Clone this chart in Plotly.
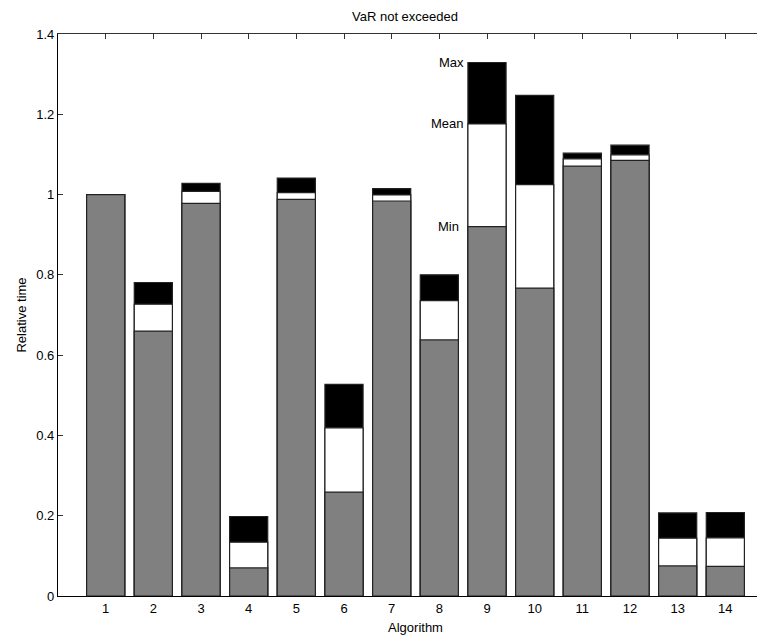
import plotly.graph_objects as go

algorithms = list(range(1, 15))
min_vals  = [1.000, 0.660, 0.978, 0.070, 0.988, 0.259, 0.984, 0.638, 0.920, 0.767, 1.071, 1.085, 0.075, 0.074]
mean_vals = [1.000, 0.727, 1.008, 0.134, 1.005, 0.419, 0.999, 0.736, 1.176, 1.025, 1.089, 1.099, 0.144, 0.145]
max_vals  = [1.000, 0.781, 1.028, 0.198, 1.041, 0.527, 1.015, 0.800, 1.329, 1.247, 1.103, 1.123, 0.207, 0.208]
y_ticks = [0, 0.2, 0.4, 0.6, 0.8, 1, 1.2, 1.4]
y_tick_labels = ["0", "0.2", "0.4", "0.6", "0.8", "1", "1.2", "1.4"]

font_family = "Liberation Sans, Arial, sans-serif"
line = dict(color="#222222", width=1.2)

fig = go.Figure()
fig.add_trace(go.Bar(x=algorithms, y=max_vals, marker=dict(color="black", line=line), width=0.8, name="Max"))
fig.add_trace(go.Bar(x=algorithms, y=mean_vals, marker=dict(color="white", line=line), width=0.8, name="Mean"))
fig.add_trace(go.Bar(x=algorithms, y=min_vals, marker=dict(color="#808080", line=line), width=0.8, name="Min"))

# dummy trace for top axis ticks
fig.add_trace(go.Scatter(x=algorithms, y=[None] * len(algorithms), xaxis="x2", showlegend=False, hoverinfo="skip"))

for label, val in [("Max", max_vals[8]), ("Mean", mean_vals[8]), ("Min", min_vals[8])]:
    fig.add_annotation(x=9 - 0.4, y=val, xref="x", yref="y", text=label, showarrow=False,
                       xanchor="right", yanchor="middle", xshift=-2 if label != "Min" else -7,
                       font=dict(family=font_family, size=13, color="black"))

fig.update_layout(
    width=765, height=641,
    margin=dict(l=50, r=0, t=26, b=53),
    paper_bgcolor="white", plot_bgcolor="white",
    barmode="overlay", showlegend=False,
    title=dict(text="VaR not exceeded", x=397 / 765, xref="container", y=1 - 8 / 641, yref="container",
               xanchor="center", yanchor="middle",
               font=dict(family=font_family, size=13, color="black")),
    font=dict(family=font_family, color="black"),
    xaxis=dict(range=[0, 15], tickvals=algorithms, ticktext=[str(a) for a in algorithms],
               ticks="", showline=True, linecolor="black", linewidth=1.2, showgrid=False, zeroline=False,
               automargin=False, tickfont=dict(size=13),
               title=dict(text="Algorithm", font=dict(size=13), standoff=8)),
    xaxis2=dict(overlaying="x", side="top", matches="x", range=[0, 15], tickvals=algorithms,
                showticklabels=False, ticks="inside", ticklen=5, tickcolor="#333333", automargin=False,
                showline=True, linecolor="#333333", linewidth=1.2, showgrid=False, zeroline=False),
    yaxis=dict(range=[0, 1.4], tickvals=y_ticks, ticktext=y_tick_labels, ticks="inside", ticklen=5,
               tickcolor="#333333", showline=True, linecolor="black", linewidth=1.2, showgrid=False,
               zeroline=False, automargin=False, tickfont=dict(size=13),
               title=dict(text="Relative time", font=dict(size=13), standoff=6)),
)

fig.write_html("out.html")
